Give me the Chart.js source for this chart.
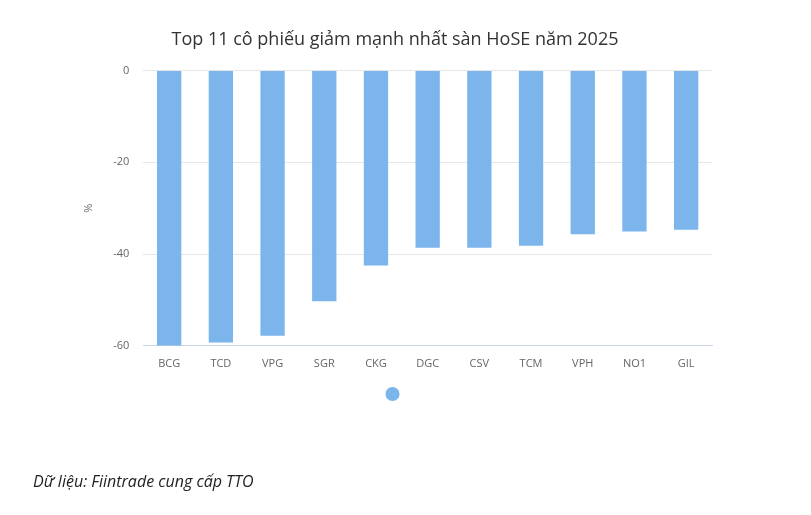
<!DOCTYPE html>
<html><head><meta charset="utf-8">
<script src="https://cdn.jsdelivr.net/npm/chart.js@4/dist/chart.umd.min.js"></script>
<style>
html,body{margin:0;padding:0;background:#fff;}
#wrap{position:relative;width:811px;height:515px;}
#note{position:absolute;left:33px;top:470px;font:italic 16px "Open Sans",sans-serif;color:#222;}
</style></head><body>
<div id="wrap"><canvas id="c" width="811" height="515"></canvas>
<div id="note">Dữ liệu: Fiintrade cung cấp TTO</div></div>
<script>
const categories=["BCG","TCD","VPG","SGR","CKG","DGC","CSV","TCM","VPH","NO1","GIL"];
const values=[-60.0,-59.3,-57.8,-50.3,-42.5,-38.6,-38.6,-38.2,-35.7,-35.1,-34.7];
const yTicks=[0,-20,-40,-60];
new Chart(document.getElementById('c'),{
 type:'bar',
 data:{labels:categories,datasets:[{label:'',data:values,backgroundColor:'#7cb5ec',barPercentage:0.47,categoryPercentage:1}]},
 options:{responsive:false,animation:false,
  layout:{padding:{left:78,right:99,top:15,bottom:106}},
  plugins:{
   title:{display:true,text:'Top 11 cô phiếu giảm mạnh nhất sàn HoSE năm 2025',font:{family:'"Open Sans"',size:18,weight:'normal'},color:'#333',padding:{top:14,bottom:20}},
   legend:{position:'bottom',labels:{usePointStyle:true,pointStyle:'circle',boxWidth:10,boxHeight:10,padding:16,font:{size:10}}},
   tooltip:{enabled:false}},
  scales:{
   x:{grid:{display:false},border:{color:'#ccd6eb'},ticks:{color:'#666',font:{family:'"Open Sans"',size:11}}},
   y:{min:-60,max:0,afterBuildTicks:a=>{a.ticks=yTicks.map(v=>({value:v}));},
      grid:{color:'#e6e6e6',drawTicks:false},border:{display:false},
      ticks:{color:'#666',padding:14,font:{family:'"Open Sans"',size:11}},
      title:{display:true,text:'%',color:'#666',font:{family:'"Open Sans"',size:11}}}
  }}
});
</script></body></html>
